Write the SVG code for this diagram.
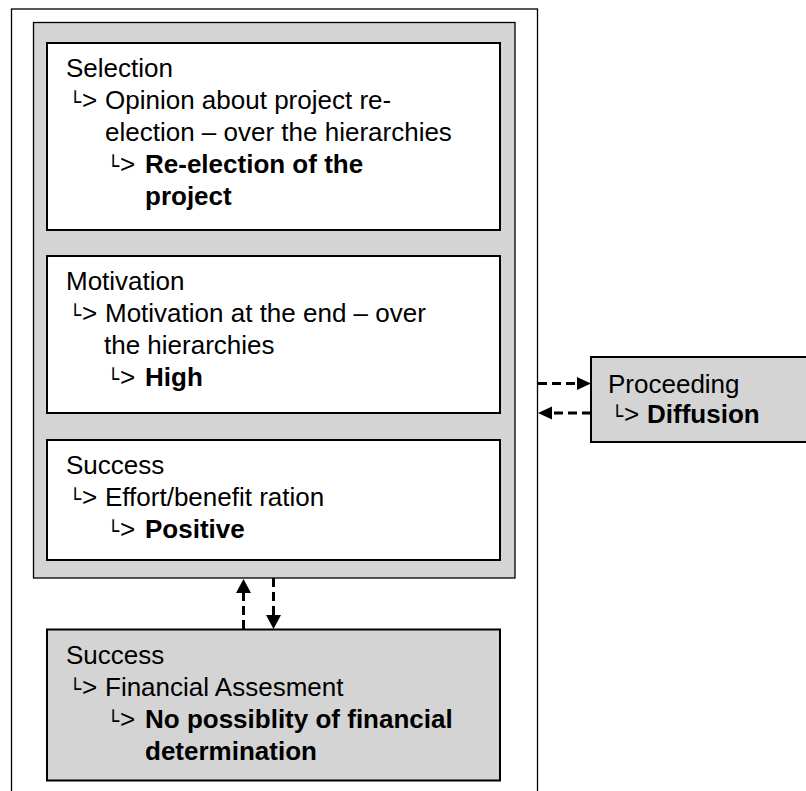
<svg xmlns="http://www.w3.org/2000/svg" width="806" height="791" viewBox="0 0 806 791">
  <style>
    .frame { fill: #ffffff; stroke: #000000; stroke-width: 1.3; }
    .panel { fill: #d4d4d4; stroke: #000000; stroke-width: 1.3; }
    .box { fill: #ffffff; stroke: #000000; stroke-width: 2; }
    .gbox { fill: #d4d4d4; stroke: #000000; stroke-width: 2; }
    text { font-family: "Liberation Sans", Arial, sans-serif; font-size: 26px; fill: #000000; }
    .b { font-weight: bold; }
    .hook { font-family: "DejaVu Sans", sans-serif; font-size: 20px; }
    .dash { fill: none; stroke: #000000; stroke-width: 3; stroke-dasharray: 9 5; }
    .head { fill: #000000; stroke: none; }
  </style>

  <!-- outer frame and grey panel -->
  <rect class="frame" x="11.5" y="9" width="526" height="800"/>
  <rect class="panel" x="33.5" y="22.5" width="481.5" height="555.5"/>

  <g id="selection">
    <rect class="box" x="47" y="43" width="453" height="187"/>
    <text x="66" y="77">Selection</text>
    <text class="hook" x="69" y="109">└</text><text x="82" y="109">&gt;</text>
    <text x="105" y="109">Opinion about project re-</text>
    <text x="105" y="141">election – over the hierarchies</text>
    <text class="hook" x="107" y="173">└</text><text x="120" y="173">&gt;</text>
    <text class="b" x="145" y="173">Re-election of the</text>
    <text class="b" x="145" y="205">project</text>
  </g>

  <g id="motivation">
    <rect class="box" x="47" y="256" width="453" height="157"/>
    <text x="66" y="290">Motivation</text>
    <text class="hook" x="69" y="322">└</text><text x="82" y="322">&gt;</text>
    <text x="105" y="322">Motivation at the end – over</text>
    <text x="104" y="354">the hierarchies</text>
    <text class="hook" x="107" y="386">└</text><text x="120" y="386">&gt;</text>
    <text class="b" x="145" y="386">High</text>
  </g>

  <g id="success-effort">
    <rect class="box" x="47" y="440" width="453" height="120"/>
    <text x="66" y="474">Success</text>
    <text class="hook" x="69" y="506">└</text><text x="82" y="506">&gt;</text>
    <text x="105" y="506">Effort/benefit ration</text>
    <text class="hook" x="107" y="538">└</text><text x="120" y="538">&gt;</text>
    <text class="b" x="145" y="538">Positive</text>
  </g>

  <g id="success-financial">
    <rect class="gbox" x="47" y="629.5" width="453" height="151"/>
    <text x="66" y="664">Success</text>
    <text class="hook" x="69" y="696">└</text><text x="82" y="696">&gt;</text>
    <text x="105" y="696">Financial Assesment</text>
    <text class="hook" x="107" y="728">└</text><text x="120" y="728">&gt;</text>
    <text class="b" x="145" y="728">No possiblity of financial</text>
    <text class="b" x="145" y="760">determination</text>
  </g>

  <g id="proceeding">
    <rect class="gbox" x="591" y="357" width="220" height="85"/>
    <text x="608" y="393">Proceeding</text>
    <text class="hook" x="611" y="423">└</text><text x="624" y="423">&gt;</text>
    <text class="b" x="647" y="423">Diffusion</text>
  </g>

  <g id="connectors">
    <!-- frame to Proceeding -->
    <line class="dash" x1="538" y1="383.5" x2="577" y2="383.5"/>
    <polygon class="head" points="577,377 591,383.5 577,390"/>
    <!-- Proceeding back to frame -->
    <line class="dash" x1="591" y1="413" x2="552" y2="413"/>
    <polygon class="head" points="552,406.5 538,413 552,419.5"/>
    <!-- financial success up to panel -->
    <line class="dash" x1="243.5" y1="629" x2="243.5" y2="593"/>
    <polygon class="head" points="236,593 243.5,579 251,593"/>
    <!-- panel down to financial success -->
    <line class="dash" x1="273.5" y1="578" x2="273.5" y2="615"/>
    <polygon class="head" points="266,615 273.5,629 281,615"/>
  </g>
</svg>
